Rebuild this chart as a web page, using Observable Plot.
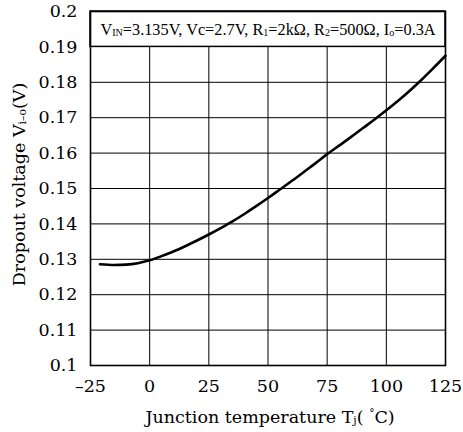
<!DOCTYPE html>
<html>
<head>
<meta charset="utf-8">
<script src="https://cdn.jsdelivr.net/npm/d3@7"></script>
<script src="https://cdn.jsdelivr.net/npm/@observablehq/plot@0.6"></script>
<style>
  html, body { margin: 0; padding: 0; background: #fff; }
</style>
</head>
<body>
<div id="chart"></div>
<script>
// Junction temperature (°C)
const temps = [-21, -15, -10, -5, 0, 5, 10, 15, 20, 25, 30, 35, 40, 45, 50, 55, 60, 65, 70, 75, 80, 85, 90, 95, 100, 105, 110, 115, 120, 125];
// Dropout voltage (V)
const volts = [0.1286, 0.1284, 0.1285, 0.1289, 0.1297, 0.1309, 0.1322, 0.1337, 0.1353, 0.1370, 0.1388, 0.1407, 0.1428, 0.1450, 0.1473, 0.1497, 0.1521, 0.1546, 0.1571, 0.1597, 0.1621, 0.1645, 0.1670, 0.1695, 0.1721, 0.1748, 0.1777, 0.1808, 0.1841, 0.1875];

const xTicks = [-25, 0, 25, 50, 75, 100, 125];
const yTicks = [0.1, 0.11, 0.12, 0.13, 0.14, 0.15, 0.16, 0.17, 0.18, 0.19, 0.2];
const xGrid = [0, 25, 50, 75, 100];
const yGrid = [0.11, 0.12, 0.13, 0.14, 0.15, 0.16, 0.17, 0.18];

// condition text: [text, kind]
const condParts = [["V", true], ["IN", "sub"], ["=3.135V, Vc=2.7V, R", true], ["1", "sub"], ["=2kΩ, R", true], ["2", "sub"], ["=500Ω, I", true], ["o", "sub"], ["=0.3A", true]];
const xLabelParts = [["Junction temperature T", true], ["j", "sub"], ["( ", true], ["°", "sup"], ["C)", true]];
const yLabelParts = [["Dropout voltage V", true], ["i–o", "sub"], ["(V)", true]];

const join = parts => parts.map(p => p[0]).join("");
const FONT = "'DejaVu Serif', 'Liberation Serif', serif";

const data = temps.map((t, i) => ({t, v: volts[i]}));

const chart = Plot.plot({
  width: 463,
  height: 432,
  marginLeft: 90,
  marginRight: 18,
  marginTop: 11,
  marginBottom: 67,
  style: {fontFamily: FONT, fontSize: "17px", background: "white", color: "black"},
  x: {domain: [-25, 125]},
  y: {domain: [0.1, 0.2]},
  marks: [
    Plot.ruleX(xGrid, {y1: 0.1, y2: 0.19, stroke: "#000", strokeWidth: 1}),
    Plot.ruleY(yGrid, {stroke: "#000", strokeWidth: 1}),
    Plot.rect([0], {x1: -25, x2: 125, y1: 0.19, y2: 0.2, fill: "white", stroke: "black", strokeWidth: 1.5}),
    Plot.line(data, {x: "t", y: "v", stroke: "black", strokeWidth: 2.6, curve: "monotone-x"}),
    Plot.frame({stroke: "black", strokeWidth: 1.6}),
    Plot.axisX({ticks: xTicks, tickSize: 0, tickPadding: 14, label: null, fontFamily: FONT, fontSize: 17.5,
      tickFormat: d => d < 0 ? "–" + Math.abs(d) : String(d)}),
    Plot.axisY({ticks: yTicks, tickSize: 0, tickPadding: 13, label: null, fontFamily: FONT, fontSize: 17.5,
      tickFormat: d => String(+d.toFixed(2))}),
    Plot.text([join(condParts)], {x: 50, y: 0.195, dy: 1, text: d => d, fontSize: 16.3, fontFamily: "'Liberation Serif', serif", fill: "black"}),
    Plot.text([join(xLabelParts)], {frameAnchor: "bottom", dy: 57, dx: 2, text: d => d, fontSize: 17.5, fontFamily: FONT, fill: "black"}),
    Plot.text([join(yLabelParts)], {frameAnchor: "left", textAnchor: "middle", dx: -71, dy: -4, rotate: -90, text: d => d, fontSize: 17.5, fontFamily: FONT, fill: "black"})
  ]
});

document.getElementById("chart").appendChild(chart);

// Replace plain strings with tspans carrying sub/superscripts
function richify(parts) {
  const full = join(parts);
  d3.select(chart).selectAll("text").filter(function() { return this.textContent === full; }).each(function() {
    const el = d3.select(this);
    el.text(null);
    parts.forEach(([s, kind]) => {
      const ts = el.append("tspan").text(s);
      if (kind === "sub") ts.attr("font-size", "0.62em").attr("baseline-shift", "-0.1em");
      else if (kind === "sup") ts.attr("font-size", "0.6em").attr("baseline-shift", "0.6em");
    });
  });
}
richify(condParts);
richify(xLabelParts);
richify(yLabelParts);
</script>
</body>
</html>
